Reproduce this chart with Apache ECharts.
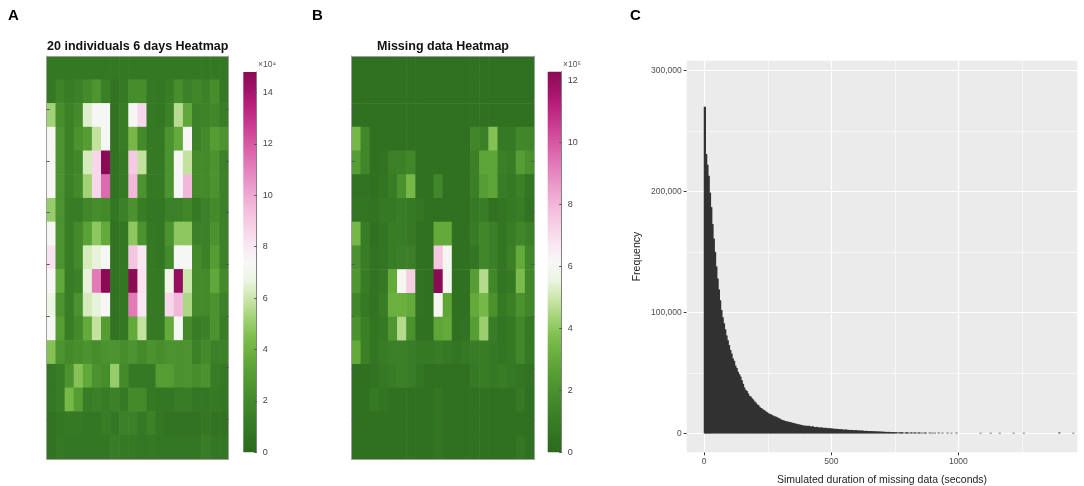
<!DOCTYPE html>
<html>
<head>
    <meta charset="utf-8">
    <script src="https://cdn.jsdelivr.net/npm/echarts@6.0.0/dist/echarts.min.js"></script>
    <style>
        html, body { margin: 0; padding: 0; background: #fff; }
    </style>
</head>
<body>
    <div id="main" style="width: 1084px; height: 486px"></div>
    <script type="text/javascript">
        // ---- panels A / B : 17 rows (top -> bottom) x 20 individuals ----
        var individuals = ['1','2','3','4','5','6','7','8','9','10','11','12','13','14','15','16','17','18','19','20'];
        var rows = ['1','2','3','4','5','6','7','8','9','10','11','12','13','14','15','16','17'];

        // panel A values, units of 10^4
        var heatA = [
            [0.9,0.9,0.9,0.9,0.9,0.9,0.9,0.9,0.9,0.9,0.9,0.9,0.9,0.9,0.9,0.9,0.9,0.9,0.9,0.9],
            [1.0,1.6,1.2,1.5,2.0,2.6,1.4,0.6,1.0,2.2,2.2,1.0,0.8,1.2,2.2,1.5,1.8,1.5,2.2,1.0],
            [5.2,2.2,1.5,2.0,6.4,7.3,7.3,0.6,1.2,7.3,8.6,1.0,0.8,1.5,5.6,3.5,1.5,1.6,1.8,1.2],
            [7.3,2.5,1.5,2.5,3.0,5.8,7.3,0.6,1.2,4.2,2.0,1.0,1.0,2.5,3.6,7.5,1.5,2.0,3.0,2.5],
            [7.3,2.5,1.5,1.8,6.2,8.6,14.8,0.6,1.0,9.0,5.8,1.0,1.0,2.5,7.3,5.8,2.0,2.0,2.5,1.5],
            [7.3,2.5,1.5,2.0,5.2,8.6,11.6,0.6,1.0,9.6,2.5,1.0,1.0,2.5,7.3,9.6,2.0,2.0,2.5,1.5],
            [5.0,2.5,1.2,1.2,1.8,2.2,2.0,0.8,1.5,2.5,1.2,0.8,0.8,1.5,1.5,1.8,1.0,1.5,2.0,1.5],
            [7.3,2.5,1.2,2.0,3.2,4.8,3.6,0.6,0.8,4.8,2.5,1.0,0.8,2.5,4.8,4.8,1.5,1.5,2.5,1.5],
            [8.2,2.5,1.2,2.0,6.2,6.6,7.3,0.6,0.8,9.2,8.0,1.0,0.8,2.0,7.3,7.3,2.0,1.5,3.0,1.5],
            [7.3,3.5,1.2,1.5,6.6,11.2,14.8,0.6,0.8,14.8,8.2,1.0,1.0,7.0,14.5,6.0,2.0,2.0,3.5,2.0],
            [6.8,2.5,1.2,2.5,6.2,6.6,7.5,0.6,0.8,11.2,8.0,1.0,1.0,8.6,9.6,5.4,2.0,2.0,2.5,1.5],
            [7.3,3.0,1.2,2.0,3.6,5.8,3.0,0.6,0.8,3.6,5.8,1.0,1.0,3.6,7.3,2.0,1.2,1.5,2.5,1.2],
            [4.6,2.5,2.0,2.2,2.5,2.2,2.5,2.5,2.2,2.5,2.0,2.5,2.2,2.5,2.5,2.5,1.5,2.0,1.5,1.5],
            [0.8,1.2,2.5,4.6,3.5,2.5,2.2,5.0,2.0,1.0,1.0,1.0,3.0,3.0,2.5,2.5,2.2,2.5,1.2,1.0],
            [0.8,1.2,4.2,3.0,1.2,1.5,1.2,1.5,1.0,2.0,2.0,1.0,0.8,0.8,1.2,1.2,0.8,0.8,1.0,0.8],
            [0.6,0.8,1.0,1.0,0.8,0.8,1.2,0.8,1.5,1.5,1.0,1.5,0.8,0.6,0.6,0.6,0.6,0.8,0.6,0.6],
            [0.6,1.0,0.8,0.8,0.8,0.8,0.8,1.2,1.0,1.0,0.8,1.0,0.8,0.8,0.8,0.8,0.8,1.2,0.8,0.8]
        ];

        // panel B values, units of 10^5
        var heatB = [
            [0.4,0.4,0.4,0.4,0.4,0.4,0.4,0.4,0.4,0.4,0.4,0.4,0.4,0.4,0.4,0.4,0.4,0.4,0.4,0.4],
            [0.4,0.4,0.4,0.4,0.4,0.4,0.4,0.4,0.4,0.4,0.4,0.4,0.4,0.4,0.4,0.4,0.4,0.4,0.4,0.4],
            [0.4,0.4,0.4,0.4,0.4,0.4,0.4,0.4,0.4,0.4,0.4,0.4,0.4,0.4,0.4,0.4,0.4,0.4,0.4,0.4],
            [3.5,1.5,0.4,0.4,0.4,0.4,0.4,0.4,0.4,0.4,0.4,0.4,0.4,1.5,1.2,3.8,0.8,0.8,1.5,1.5],
            [2.5,1.5,0.4,0.5,1.2,1.2,1.5,0.4,0.4,0.4,0.4,0.4,0.4,1.2,2.8,2.8,1.2,1.0,2.5,2.0],
            [0.5,0.5,0.4,0.6,1.0,2.0,3.5,0.4,0.4,1.5,0.4,0.4,0.4,1.2,2.5,2.8,1.0,0.8,1.2,0.6],
            [0.6,0.6,0.5,0.8,0.8,1.0,0.8,0.6,0.4,0.4,0.4,0.4,0.4,0.8,1.0,0.4,0.6,0.8,1.0,0.5],
            [3.5,1.0,0.4,0.6,1.0,1.0,0.8,0.4,0.4,3.0,3.0,0.4,0.4,1.0,1.5,1.2,0.6,1.0,1.5,1.2],
            [2.0,1.0,0.5,0.6,1.0,1.2,1.2,0.4,0.4,7.6,6.0,0.4,0.4,0.6,1.5,1.2,0.6,1.2,3.0,1.5],
            [2.2,1.0,0.5,0.8,3.0,6.0,7.4,0.5,0.4,12.3,6.0,0.4,0.4,2.5,4.6,1.5,0.6,0.8,3.6,1.5],
            [1.5,0.8,0.5,1.0,3.2,3.2,3.0,0.5,0.4,6.0,2.8,0.4,0.4,3.0,3.5,2.0,0.8,1.2,2.0,1.5],
            [2.0,1.2,0.6,0.8,2.2,4.6,2.0,0.4,0.4,2.8,3.0,0.4,0.5,2.5,4.2,1.0,0.6,0.8,1.5,0.8],
            [3.0,1.2,0.6,1.0,1.2,1.2,1.0,0.8,0.8,1.0,0.8,0.6,0.8,1.0,1.0,0.8,0.6,0.8,1.5,0.8],
            [0.4,0.4,0.5,0.8,1.0,1.2,1.0,0.6,0.4,0.4,0.4,0.4,0.4,0.8,1.0,0.8,1.0,0.8,0.6,0.5],
            [0.4,0.4,0.8,0.6,0.4,0.4,0.4,0.4,0.4,0.6,0.4,0.4,0.4,0.4,0.4,0.4,0.4,0.4,0.8,0.4],
            [0.4,0.4,0.4,0.4,0.4,0.4,0.4,0.4,0.4,0.6,0.4,0.4,0.4,0.4,0.4,0.4,0.4,0.4,0.4,0.4],
            [0.4,0.4,0.4,0.4,0.4,0.4,0.4,0.4,0.4,0.6,0.4,0.4,0.4,0.4,0.4,0.4,0.4,0.4,0.7,0.4]
        ];

        var cbMaxA = 14.8;
        var cbMaxB = 12.28;
        var cbTicksA = [0, 2, 4, 6, 8, 10, 12, 14];
        var cbTicksB = [0, 2, 4, 6, 8, 10, 12];
        var rowTicks = [1, 2, 3, 4, 5, 6, 7];

        // green - white - magenta map, bottom to top
        var piyg = ['#2b6a1d', '#327523', '#3b8127', '#468e2c', '#549c33', '#66ac3c', '#7dbd4c',
                    '#a0d175', '#c8e5a6', '#ebf4e0', '#f8f7f7', '#f9e5f0', '#f6cfe5', '#f2b7d9',
                    '#eb9bca', '#e37eba', '#d960a8', '#cd4295', '#bd2580', '#a4136a', '#8a0a54'];

        // ---- panel C : histogram, 5 s bins from 0, counts in thousands ----
        var binWidth = 5;
        var histCountsK = [
            270, 231, 222, 213, 199, 187, 173, 161, 150, 138, 128, 119, 110, 102, 96, 91, 86, 81, 77, 73,
            69, 66, 62, 60, 56, 54, 51, 49, 47, 44, 41, 38, 36, 35, 33, 31, 30.5, 29, 28, 26.5,
            25.5, 24, 23.5, 22, 21, 20.5, 19.5, 19, 18, 17.5, 16.6, 16, 15.8, 15, 14.6, 14, 13.8, 13.2, 12.6, 12.2,
            11.4, 11, 10.8, 10.2, 10, 9.9, 9.5, 9.3, 9.1, 8.7, 8.5, 8.1, 8, 7.6, 7.4, 7.2, 7, 6.6, 6.5, 6.2,
            6.4, 6.0, 6.3, 5.8, 5.6, 5.9, 5.3, 5.2, 5.4, 5.0, 4.9, 4.7, 5.0, 4.6, 4.5, 4.7, 4.3, 4.2, 4.4, 4.0,
            4.1, 3.8, 3.9, 3.6, 3.8, 3.4, 3.6, 3.3, 3.4, 3.1, 3.0, 3.3, 2.9, 3.0, 2.8, 2.7, 2.9, 2.6, 2.5, 2.7,
            2.4, 2.5, 2.3, 2.2, 2.5, 2.1, 2.0, 2.2, 1.9, 2.0, 1.8, 1.9, 1.7, 1.8, 1.6, 1.7, 1.5, 1.6, 1.4, 1.6,
            1.3, 1.4, 1.2, 1.3, 1.1, 1.3, 1.0, 1.2, 0.9, 1.1, 0.9, 1.0, 0, 0.9, 0.8, 1.0, 0.7, 0, 0.8, 0.9,
            0.7, 0, 0.8, 0.7, 0, 0.9, 0.6, 0, 0.7, 0.8, 0, 0.6, 0, 0.7, 0.6, 0, 0, 0.7, 0, 0.6,
            0, 0.6, 0, 0, 0.7, 0, 0, 0.6, 0, 0, 0, 0.6, 0, 0, 0.5, 0, 0, 0, 0.6, 0
        ];
        // isolated long gaps past 1000 s: [bin start, count in thousands]
        var histTail = [[1085, 0.5], [1125, 0.5], [1160, 0.5], [1215, 0.5], [1255, 0.5], [1395, 0.8], [1450, 0.5]];

        var histXTicks = [0, 500, 1000];
        var histXMinor = [250, 750, 1250];
        var histYTicks = [0, 100000, 200000, 300000];
        var histYMinor = [50000, 150000, 250000];

        var FONT = '"Liberation Sans", Arial, Helvetica, sans-serif';

        function toCells(m) {
            var out = [];
            for (var r = 0; r < m.length; r++) {
                for (var c = 0; c < m[r].length; c++) {
                    out.push([c, r, m[r][c]]);
                }
            }
            return out;
        }

        function histData() {
            var out = [];
            for (var i = 0; i < histCountsK.length; i++) {
                if (histCountsK[i] > 0) out.push([i * binWidth, histCountsK[i] * 1000, binWidth]);
            }
            histTail.forEach(function (t) { out.push([t[0], t[1] * 1000, binWidth]); });
            return out;
        }

        // heatmap cell, slightly overlapped so no seams show between cells
        function renderCell(params, api) {
            var c = api.coord([api.value(0), api.value(1)]);
            var s = api.size([1, 1]);
            return {
                type: 'rect',
                shape: { x: c[0] - s[0] / 2 - 0.3, y: c[1] - s[1] / 2 - 0.3, width: s[0] + 0.6, height: s[1] + 0.6 },
                style: { fill: api.visual('color') }
            };
        }

        function colorbarRenderer(max) {
            var stops = piyg.map(function (col, i) { return { offset: i / (piyg.length - 1), color: col }; });
            return function (params, api) {
                var lo = api.coord([0, 0]);
                var hi = api.coord([1, max]);
                return {
                    type: 'rect',
                    shape: { x: lo[0], y: hi[1], width: hi[0] - lo[0], height: lo[1] - hi[1] },
                    style: { fill: new echarts.graphic.LinearGradient(0, 1, 0, 0, stops) }
                };
            };
        }

        // bins overlap a little so the mass reads as solid
        function renderBin(params, api) {
            var top = api.coord([api.value(0), api.value(1)]);
            var base = api.coord([api.value(0) + api.value(2), 0]);
            return {
                type: 'rect',
                shape: { x: top[0] - 0.5, y: top[1], width: base[0] - top[0] + 1, height: base[1] - top[1] },
                style: { fill: '#323232' }
            };
        }

        function gridLines() {
            var out = [];
            histXTicks.forEach(function (v) { out.push({ xAxis: v, lineStyle: { color: '#ffffff', width: 1.2, type: 'solid' } }); });
            histXMinor.forEach(function (v) { out.push({ xAxis: v, lineStyle: { color: '#ffffff', width: 0.6, type: 'solid' } }); });
            histYTicks.forEach(function (v) { out.push({ yAxis: v, lineStyle: { color: '#ffffff', width: 1.2, type: 'solid' } }); });
            histYMinor.forEach(function (v) { out.push({ yAxis: v, lineStyle: { color: '#ffffff', width: 0.6, type: 'solid' } }); });
            return out;
        }

        // onZero off everywhere, or the line jumps to the other axis's zero
        var boxLine = { show: true, onZero: false, lineStyle: { color: '#a0a0a0', width: 1 } };
        var none = { show: false };
        var noLine = { show: false, onZero: false };

        function heatX(gi) {
            return [
                { type: 'category', gridIndex: gi, data: individuals, position: 'bottom', z: 5,
                  axisLine: boxLine, axisTick: none, axisLabel: none, splitLine: none },
                { type: 'value', gridIndex: gi, position: 'top', min: 0, max: 1, z: 5,
                  axisLine: boxLine, axisTick: none, axisLabel: none, splitLine: none }
            ];
        }

        function heatY(gi) {
            var tickAxis = function (pos) {
                return { type: 'value', gridIndex: gi, position: pos, min: -0.03, max: 7.77, inverse: true, z: 5,
                         axisLine: boxLine,
                         axisTick: { show: true, inside: true, length: 3, customValues: rowTicks,
                                     lineStyle: { color: '#555' } },
                         axisLabel: none, splitLine: none };
            };
            return [
                { type: 'category', gridIndex: gi, data: rows, inverse: true, show: false, axisLine: noLine },
                tickAxis('left'),
                tickAxis('right')
            ];
        }

        function cbX(gi) {
            return { type: 'value', gridIndex: gi, min: 0, max: 1, show: false, axisLine: noLine };
        }

        function cbY(gi, max, ticks) {
            return { type: 'value', gridIndex: gi, position: 'right', min: 0, max: max, z: 5,
                     axisLine: { show: true, onZero: false, lineStyle: { color: '#808080', width: 1 } },
                     axisTick: { show: true, inside: true, length: 2.5, customValues: ticks,
                                 lineStyle: { color: '#555' } },
                     axisLabel: { show: true, customValues: ticks, margin: 6, fontSize: 9,
                                  color: '#444', fontFamily: FONT },
                     splitLine: none };
        }

        function text(x, y, str, size, weight, color, align) {
            return { type: 'text', x: x, y: y, silent: true,
                     style: { text: str, fontSize: size, fontWeight: weight || 'normal', fontFamily: FONT,
                              fill: color || '#000', textAlign: align || 'left', textVerticalAlign: 'middle' } };
        }

        var myChart = echarts.init(document.getElementById('main'), null, { renderer: 'canvas' });

        var option = {
            animation: false,
            backgroundColor: '#ffffff',
            grid: [
                { left: 46.7, top: 56, width: 182, height: 403, outerBoundsMode: 'none' },
                { left: 243.3, top: 72, width: 13.4, height: 380.3, outerBoundsMode: 'none' },
                { left: 351.7, top: 56, width: 182.6, height: 403.3, outerBoundsMode: 'none' },
                { left: 547.7, top: 71.7, width: 14, height: 380.6, outerBoundsMode: 'none' },
                { left: 686.7, top: 60.7, width: 390.6, height: 391.6, outerBoundsMode: 'none',
                  show: true, backgroundColor: '#ebebeb', borderWidth: 0 }
            ],
            xAxis: heatX(0).concat([cbX(1)], heatX(2), [cbX(3), {
                type: 'value', gridIndex: 4, min: -69, max: 1468, position: 'bottom',
                axisLine: noLine,
                axisTick: { show: true, length: 3, customValues: histXTicks, lineStyle: { color: '#333' } },
                axisLabel: { show: true, customValues: histXTicks, margin: 5, fontSize: 8.5,
                             color: '#4d4d4d', fontFamily: FONT,
                             formatter: function (v) { return String(v); } },
                splitLine: none,
                name: 'Simulated duration of missing data (seconds)', nameLocation: 'middle', nameGap: 22,
                nameTextStyle: { fontSize: 10.5, color: '#222', fontFamily: FONT }
            }]),
            yAxis: heatY(0).concat([cbY(1, cbMaxA, cbTicksA)], heatY(2), [cbY(3, cbMaxB, cbTicksB), {
                type: 'value', gridIndex: 4, min: -15600, max: 308000, position: 'left',
                axisLine: noLine,
                axisTick: { show: true, length: 3, customValues: histYTicks, lineStyle: { color: '#333' } },
                axisLabel: { show: true, customValues: histYTicks, margin: 5, fontSize: 8.5,
                             color: '#4d4d4d', fontFamily: FONT,
                             formatter: function (v) { return String(v).replace(/\B(?=(\d{3})+(?!\d))/g, ','); } },
                splitLine: none,
                name: 'Frequency', nameLocation: 'middle', nameGap: 44, nameRotate: 90,
                nameTextStyle: { fontSize: 10.5, color: '#222', fontFamily: FONT }
            }]),
            visualMap: [
                { type: 'continuous', seriesIndex: 0, dimension: 2, min: 0, max: cbMaxA,
                  inRange: { color: piyg }, show: false },
                { type: 'continuous', seriesIndex: 1, dimension: 2, min: 0, max: cbMaxB,
                  inRange: { color: piyg }, show: false }
            ],
            series: [
                { type: 'custom', xAxisIndex: 0, yAxisIndex: 0, data: toCells(heatA), clip: true,
                  encode: { x: 0, y: 1 }, renderItem: renderCell, silent: true },
                { type: 'custom', xAxisIndex: 3, yAxisIndex: 4, data: toCells(heatB), clip: true,
                  encode: { x: 0, y: 1 }, renderItem: renderCell, silent: true },
                { type: 'custom', xAxisIndex: 2, yAxisIndex: 3, data: [[0, 0, cbMaxA]], silent: true,
                  encode: { x: 0, y: 2 }, renderItem: colorbarRenderer(cbMaxA) },
                { type: 'custom', xAxisIndex: 5, yAxisIndex: 7, data: [[0, 0, cbMaxB]], silent: true,
                  encode: { x: 0, y: 2 }, renderItem: colorbarRenderer(cbMaxB) },
                { type: 'line', xAxisIndex: 6, yAxisIndex: 8, data: [], silent: true,
                  markLine: { silent: true, symbol: 'none', z: 1, animation: false,
                              label: { show: false }, data: gridLines() } },
                { type: 'custom', xAxisIndex: 6, yAxisIndex: 8, z: 3, silent: true,
                  encode: { x: 0, y: 1 }, renderItem: renderBin, data: histData() }
            ],
            graphic: [
                text(8, 16, 'A', 15, 'bold'),
                text(312, 16, 'B', 15, 'bold'),
                text(630, 16, 'C', 15, 'bold'),
                text(137.7, 46.5, '20 individuals 6 days Heatmap', 12.5, 'bold', '#111', 'center'),
                text(443, 46.5, 'Missing data Heatmap', 12.5, 'bold', '#111', 'center'),
                text(258, 65, '\u00d710\u2074', 8.5, 'normal', '#555'),
                text(563, 65, '\u00d710\u2075', 8.5, 'normal', '#555')
            ]
        };

        myChart.setOption(option);
    </script>
</body>
</html>
